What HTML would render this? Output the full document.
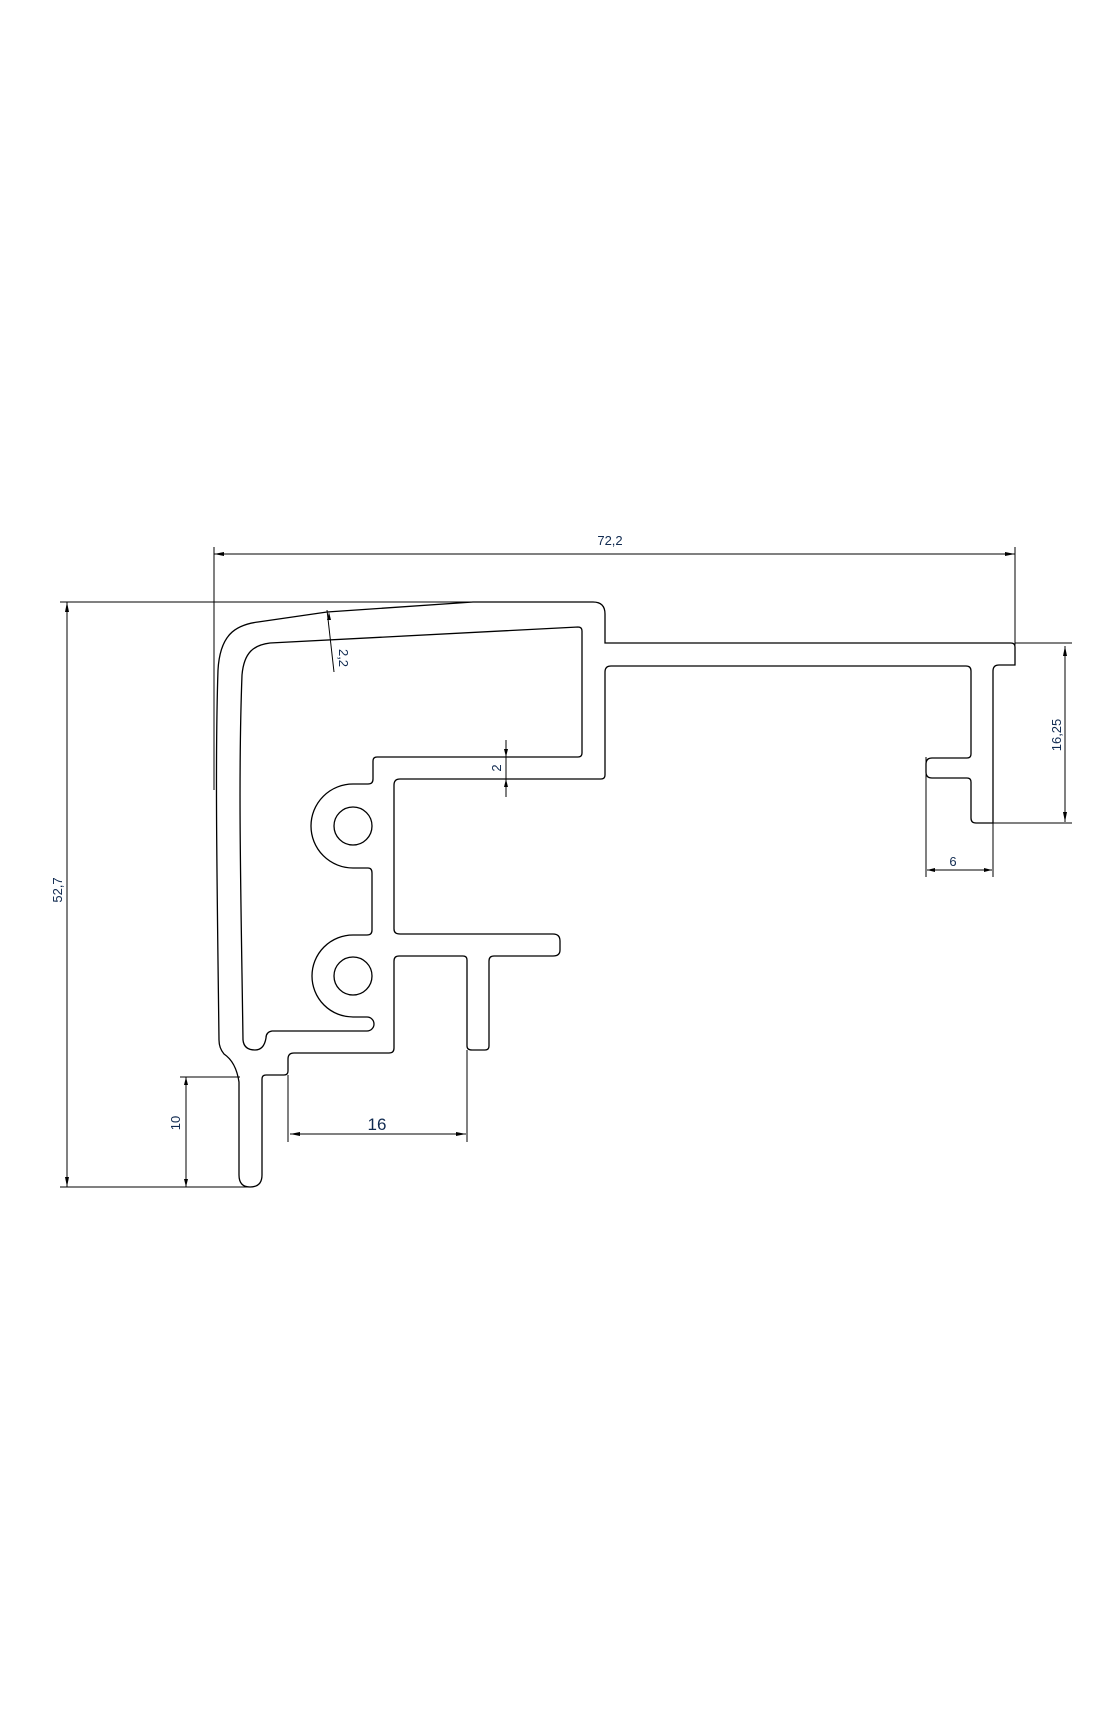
<!DOCTYPE html>
<html><head><meta charset="utf-8"><style>
html,body{margin:0;padding:0;background:#fff;}
svg{display:block}
text{font-family:"Liberation Sans",sans-serif;fill:#102a50}
</style></head><body>
<svg width="1115" height="1723" viewBox="0 0 1115 1723" xmlns="http://www.w3.org/2000/svg">
<g fill="none" stroke="#000" stroke-width="1.3">
<path d="M473 602 L593 602 Q605 602 605 614 L605 643 L1011 643 Q1015 643 1015 647 L1015 665 L999 665 Q993 665 993 671 L993 823 L976 823 Q971 823 971 818 L971 782 Q971 778 967 778 L932 778 Q926 778 926 772 L926 764 Q926 758 932 758 L967 758 Q971 758 971 754 L971 671 Q971 666 966 666 L611 666 Q605 666 605 672 L605 775 Q605 779 601 779 L400 779 Q394 779 394 785 L394 929 Q394 934 400 934 L553 934 Q560 934 560 941 L560 950 Q560 956 553 956 L494 956 Q489 956 489 961 L489 1046 Q489 1050 485 1050 L472 1050 Q467 1050 467 1046 L467 960 Q467 956 463 956 L399 956 Q394 956 394 961 L394 1048 Q394 1053 389 1053 L294 1053 Q288 1053 288 1059 L288 1071 Q288 1075 284 1075 L266 1075 Q262 1075 262 1079 L262 1175 Q262 1187 250 1187 Q239 1187 239 1175 L239 1082 Q236 1062 224 1054 Q219 1048 219 1040 C217 880 215 760 218 670 C220 635 235 625 258 622 L327 612 Z"/>
<path d="M578 627 Q582 627 582 631 L582 753 Q582 757 578 757 L377 757 Q373 757 373 761 L373 779 Q373 784 368 784 L353 784 A42 42 0 0 0 353 868 L368 868 Q372 868 372 873 L372 930 Q372 935 367 935 L353 935 A41 41 0 0 0 353 1017 L367 1017 A7 7 0 0 1 367 1031 L272 1031 Q266 1032 266 1038 Q264 1050 255 1050 Q244 1050 243 1040 C241 900 238 780 242 675 C244 652 254 645 270 643 Z"/>
<circle cx="353" cy="826" r="19"/>
<circle cx="353" cy="976" r="19"/>
</g>
<g fill="none" stroke="#000" stroke-width="1">
<line x1="214" y1="547" x2="214" y2="790"/>
<line x1="1015" y1="547" x2="1015" y2="650"/>
<line x1="214" y1="554" x2="1015" y2="554"/>
<line x1="60" y1="602" x2="473" y2="602"/>
<line x1="60" y1="1187" x2="250" y2="1187"/>
<line x1="67" y1="602" x2="67" y2="1187"/>
<line x1="180" y1="1077" x2="240" y2="1077"/>
<line x1="186" y1="1077" x2="186" y2="1187"/>
<line x1="288" y1="1075" x2="288" y2="1142"/>
<line x1="467" y1="1050" x2="467" y2="1142"/>
<line x1="290" y1="1134" x2="466" y2="1134"/>
<line x1="1015" y1="643" x2="1072" y2="643"/>
<line x1="975" y1="823" x2="1072" y2="823"/>
<line x1="1065" y1="646" x2="1065" y2="822"/>
<line x1="926" y1="757" x2="926" y2="877"/>
<line x1="993" y1="823" x2="993" y2="877"/>
<line x1="927" y1="870" x2="992" y2="870"/>
<line x1="506" y1="740" x2="506" y2="797"/>
<line x1="327" y1="610" x2="334" y2="672"/>
</g>
<g fill="#000">
<path d="M214 554 l10 -2 v4z"/><path d="M1015 554 l-10 -2 v4z"/>
<path d="M67 602 l-2 10 h4z"/><path d="M67 1187 l-2 -10 h4z"/>
<path d="M186 1077 l-2 8 h4z"/><path d="M186 1187 l-2 -8 h4z"/>
<path d="M290 1134 l10 -2 v4z"/><path d="M466 1134 l-10 -2 v4z"/>
<path d="M1065 646 l-2 10 h4z"/><path d="M1065 822 l-2 -10 h4z"/>
<path d="M927 870 l8 -2 v4z"/><path d="M992 870 l-8 -2 v4z"/>
<path d="M506 757 l-2 -8 h4z"/><path d="M506 779 l-2 8 h4z"/>
<path d="M329 612 l-2 8 h4z"/>
</g>
<text x="610" y="545" font-size="13" text-anchor="middle">72,2</text>
<text x="377" y="1130" font-size="17" text-anchor="middle">16</text>
<text x="953" y="866" font-size="13" text-anchor="middle">6</text>
<text transform="translate(62,890) rotate(-90)" font-size="13" text-anchor="middle">52,7</text>
<text transform="translate(180,1123) rotate(-90)" font-size="13" text-anchor="middle">10</text>
<text transform="translate(1061,735) rotate(-90)" font-size="13" text-anchor="middle">16,25</text>
<text transform="translate(501,768) rotate(-90)" font-size="13" text-anchor="middle">2</text>
<text transform="translate(339,658) rotate(90)" font-size="13" text-anchor="middle">2,2</text>
</svg>
</body></html>
